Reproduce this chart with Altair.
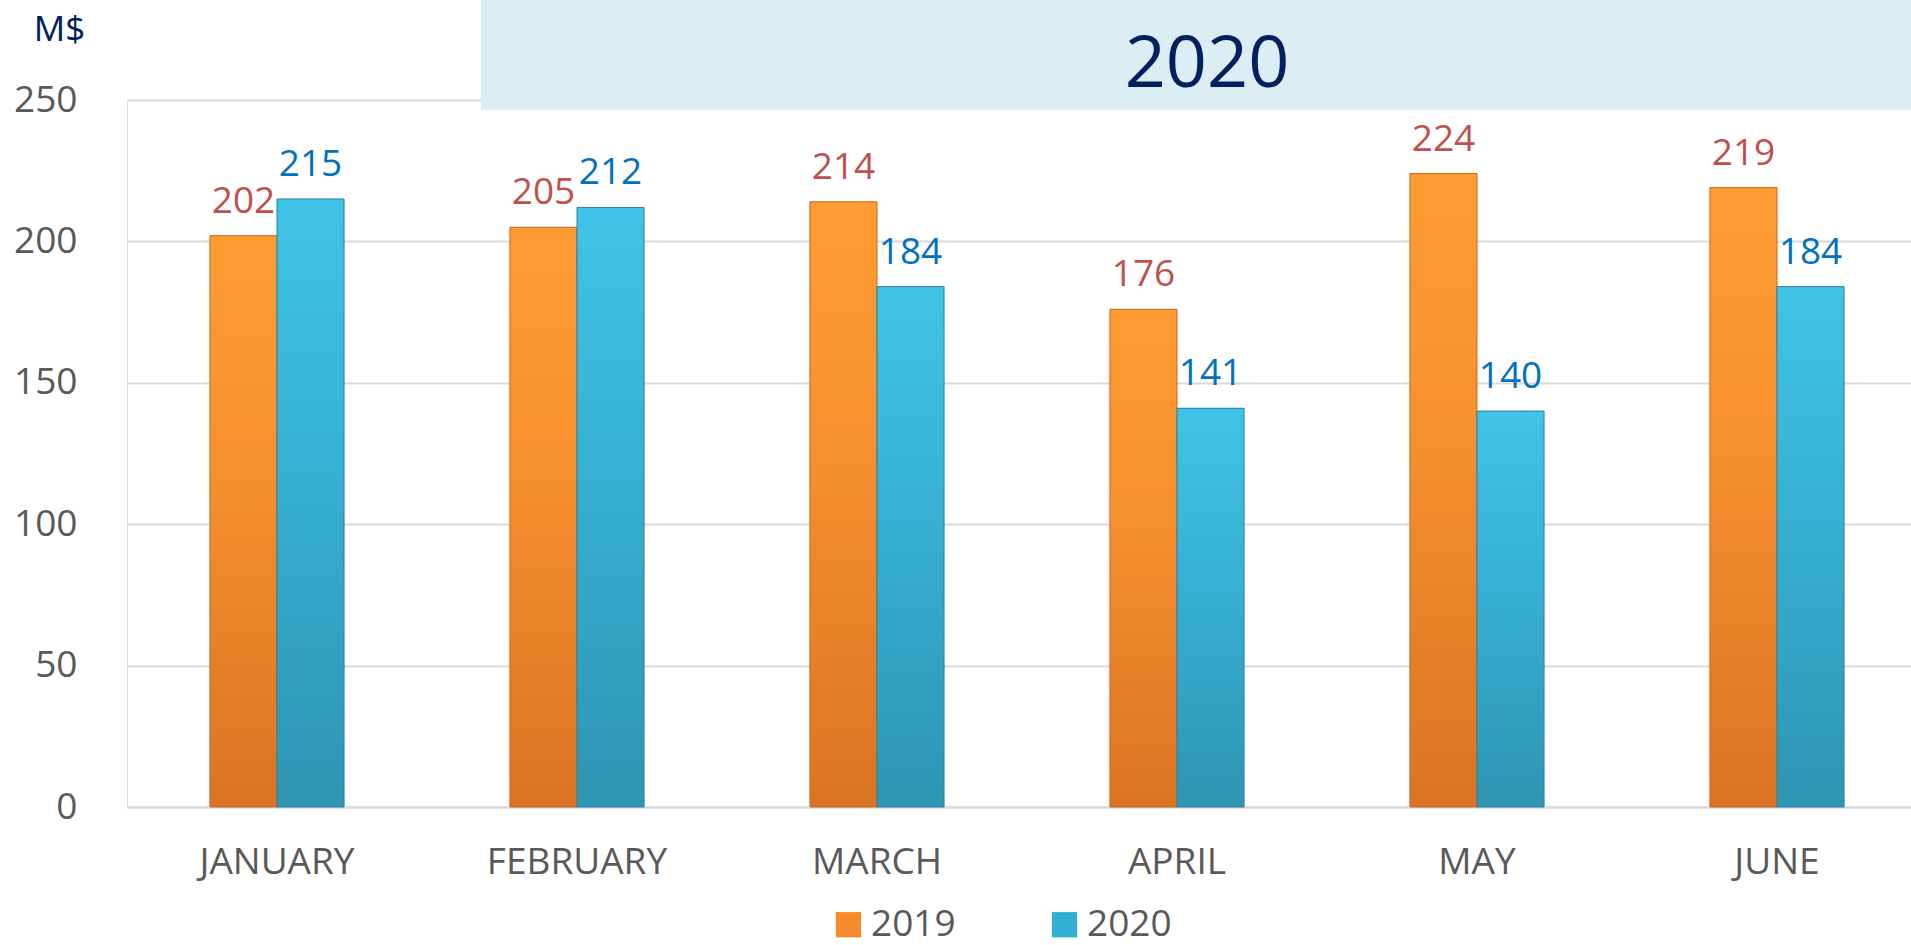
import altair as alt
import pandas as pd

months = ["JANUARY", "FEBRUARY", "MARCH", "APRIL", "MAY", "JUNE"]
series = ["2019", "2020"]
values_2019 = [202, 205, 214, 176, 224, 219]
values_2020 = [215, 212, 184, 141, 140, 184]
y_ticks = [0, 50, 100, 150, 200, 250]
title_text = ["2020"]
unit_label = "M$"

rows = []
for m, a, b in zip(months, values_2019, values_2020):
    rows.append({"month": m, "series": "2019", "value": a})
    rows.append({"month": m, "series": "2020", "value": b})
df = pd.DataFrame(rows)

FONT = "Open Sans"
ORANGE = "#F58A2A"
BLUE = "#33AFD3"

grad_orange = alt.Gradient(
    gradient="linear", x1=0, x2=0, y1=0, y2=1,
    stops=[alt.GradientStop(color="#FF9C33", offset=0),
           alt.GradientStop(color="#F7902E", offset=0.4),
           alt.GradientStop(color="#DC7324", offset=1)],
)
grad_blue = alt.Gradient(
    gradient="linear", x1=0, x2=0, y1=0, y2=1,
    stops=[alt.GradientStop(color="#40C3E8", offset=0),
           alt.GradientStop(color="#37B2D6", offset=0.4),
           alt.GradientStop(color="#2E95B2", offset=1)],
)

x_enc = alt.X(
    "month:N", sort=months, title=None,
    scale=alt.Scale(paddingInner=0.553, paddingOuter=0.2765, range=[0, 1800]),
    axis=alt.Axis(labelAngle=0, labelFontSize=37, labelColor="#595959",
                  labelFont=FONT, labelPadding=37, labelLimit=0, ticks=False,
                  domain=True, domainColor="#D9D9D9", domainWidth=2, grid=False),
)
xoff_enc = alt.XOffset("series:N", sort=series, scale=alt.Scale(domain=series, paddingInner=0, paddingOuter=0))
y_enc = alt.Y(
    "value:Q", scale=alt.Scale(domain=[0, 250], nice=False),
    axis=alt.Axis(values=y_ticks, labelFontSize=37, labelColor="#595959",
                  labelFont=FONT, labelPadding=50, ticks=False, domain=False,
                  grid=True, gridColor="#D9D9D9", gridWidth=2,
                  title=unit_label, titleAngle=0, titleFontSize=35,
                  titleFont=FONT, titleFontWeight="normal", titleColor="#002060",
                  titleX=-68, titleY=-71, titleAlign="center", titleBaseline="middle"),
)

base = alt.Chart(df)

bars = base.mark_bar().encode(
    x=x_enc, xOffset=xoff_enc, y=y_enc,
    color=alt.Color(
        "series:N",
        scale=alt.Scale(domain=series, range=[ORANGE, BLUE]),
        legend=alt.Legend(
            title=None, orient="none", legendX=703, legendY=806,
            direction="horizontal", symbolType="square", symbolSize=640,
            symbolStrokeWidth=0, labelFontSize=37, labelColor="#595959",
            labelFont=FONT, labelOffset=4, columnPadding=90,
        ),
    ),
)

bars19 = base.transform_filter(alt.datum.series == "2019").mark_bar(
    color=grad_orange, stroke="#C9661F", strokeWidth=1
).encode(x=x_enc, xOffset=xoff_enc, y=y_enc)

bars20 = base.transform_filter(alt.datum.series == "2020").mark_bar(
    color=grad_blue, stroke="#2A8199", strokeWidth=1
).encode(x=x_enc, xOffset=xoff_enc, y=y_enc)

lab19 = base.transform_filter(alt.datum.series == "2019").mark_text(
    font=FONT, fontSize=37, color="#C0504D", baseline="alphabetic", dy=-23
).encode(x=x_enc, xOffset=xoff_enc, y=y_enc, text="value:Q")

lab20 = base.transform_filter(alt.datum.series == "2020").mark_text(
    font=FONT, fontSize=37, color="#0070C0", baseline="alphabetic", dy=-23
).encode(x=x_enc, xOffset=xoff_enc, y=y_enc, text="value:Q")

tdf = pd.DataFrame({"t": title_text})
title_box = alt.Chart(tdf).mark_rect(color="#DAEEF3").encode(
    x=alt.value(354), x2=alt.value(1784), y=alt.value(-100), y2=alt.value(10)
)
title_txt = alt.Chart(tdf).mark_text(
    font=FONT, fontSize=72, color="#002060", align="center", baseline="alphabetic"
).encode(x=alt.value(1080), y=alt.value(-13), text="t:N")

chart = alt.layer(bars, bars19, bars20, lab19, lab20, title_box, title_txt).properties(
    width=1784, height=707,
    padding={"left": 127, "top": 100, "right": 0, "bottom": 138},
    autosize=alt.AutoSizeParams(type="none"),
).configure_view(stroke=None).configure(font=FONT, background="white")

chart.save("out.html", embed_options={"renderer": "svg", "actions": False})
